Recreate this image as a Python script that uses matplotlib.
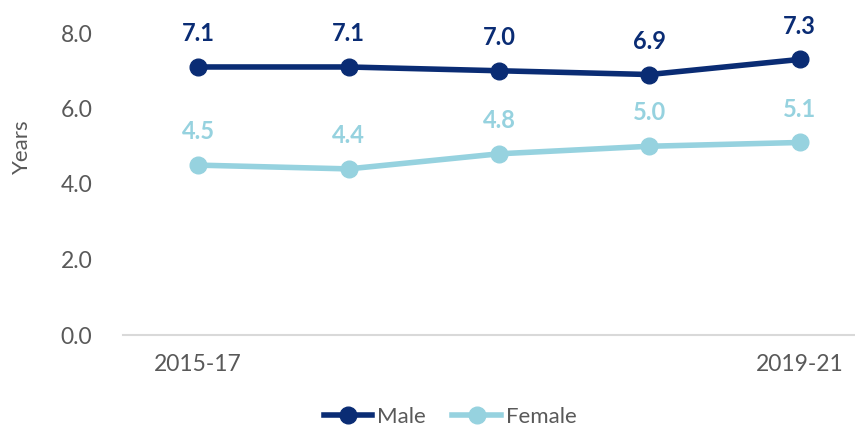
import matplotlib.pyplot as plt

# life expectancy gap (years), three-year rolling periods
periods = ["2015-17", "2016-18", "2017-19", "2018-20", "2019-21"]
male = [7.1, 7.1, 7.0, 6.9, 7.3]
female = [4.5, 4.4, 4.8, 5.0, 5.1]
shown_ticks = ["2015-17", "", "", "", "2019-21"]

male_col = "#0A2C74"
female_col = "#96D2DF"
grey = "#595959"

plt.rcParams['font.family'] = ['Lato', 'DejaVu Sans']

fig = plt.figure(figsize=(8.55, 4.3), dpi=100)
ax = fig.add_axes([123 / 855, 95 / 430, 752 / 855, 302 / 430])

x = list(range(len(periods)))
ax.plot(x, male, color=male_col, lw=4, marker='o', ms=12, label="Male", clip_on=False)
ax.plot(x, female, color=female_col, lw=4, marker='o', ms=12, label="Female", clip_on=False)

for i in x:
    ax.annotate(f"{male[i]:.1f}", (i, male[i]), xytext=(0, 24), textcoords='offset points',
                ha='center', va='center', fontsize=17, fontweight='bold', color=male_col)
    ax.annotate(f"{female[i]:.1f}", (i, female[i]), xytext=(0, 24), textcoords='offset points',
                ha='center', va='center', fontsize=17, fontweight='bold', color=female_col)

ax.set_xlim(-0.5, 4.5)
ax.set_ylim(0, 8)
ax.set_yticks([0, 2, 4, 6, 8])
ax.set_yticklabels([f"{v:.1f}" for v in [0, 2, 4, 6, 8]])
ax.set_xticks(x)
ax.set_xticklabels(shown_ticks)
ax.tick_params(axis='both', length=0, labelsize=16.5, labelcolor=grey)
ax.tick_params(axis='y', pad=22)
ax.tick_params(axis='x', pad=14)

for s in ['top', 'right', 'left']:
    ax.spines[s].set_visible(False)
ax.spines['bottom'].set_color('#D9D9D9')
ax.spines['bottom'].set_linewidth(1.5)

fig.text(22 / 855, 1 - 147 / 430, "Years", rotation=90, ha='center', va='center',
         fontsize=16, color=grey)

fig.legend(loc='center', bbox_to_anchor=(450 / 855, 1 - 417 / 430), ncol=2, frameon=False,
           fontsize=16, labelcolor=grey, handlelength=2.2, handletextpad=0.2, columnspacing=1.2)

fig.savefig("out.png", dpi=100)
